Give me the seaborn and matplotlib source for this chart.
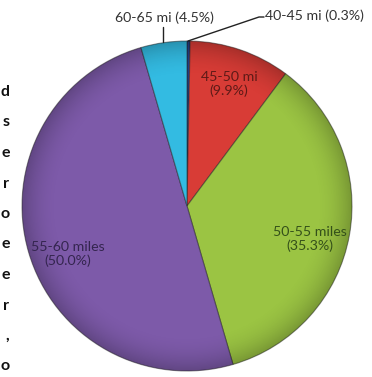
import matplotlib
matplotlib.use("Agg")
import matplotlib.pyplot as plt
import matplotlib.patches as mpatches
import numpy as np
import seaborn as sns

# ---- data ----
categories = ["40-45 mi", "45-50 mi", "50-55 miles", "55-60 miles", "60-65 mi"]
shares = [0.3, 9.9, 35.3, 50.0, 4.5]
colors = ["#243f86", "#d83c36", "#9bc443", "#7d5aa9", "#33bbe2"]
label_colors = ["#333333", "#5e1a17", "#34501a", "#34254f", "#333333"]
side_letters = ["d", "s", "e", "r", "o", "e", "e", "r", ",", "o"]

sns.set_theme(style="white")
plt.rcParams["font.family"] = ["Lato", "DejaVu Sans"]

W, H = 372, 377
fig = plt.figure(figsize=(W / 100, H / 100), dpi=100)
ax = fig.add_axes([0, 0, 1, 1])


def P(x, y):
    return (x, H - y)


cx, cy, R = 187, 206, 165
palette = sns.color_palette(colors)
wedges, _ = ax.pie(
    shares,
    colors=palette,
    startangle=90,
    counterclock=False,
    center=P(cx, cy),
    radius=R,
    wedgeprops=dict(edgecolor=(0.15, 0.15, 0.15, 0.5), linewidth=0.8),
    frame=True,
)
ax.set_xlim(0, W)
ax.set_ylim(0, H)
ax.set_aspect("equal")
ax.axis("off")

# soft rim shading (glossy look of the original)
yy, xx = np.mgrid[-1:1:300j, -1:1:300j]
rr = np.sqrt(xx ** 2 + yy ** 2)
shade = np.zeros((300, 300, 4))
shade[..., 3] = np.clip((rr - 0.78) / 0.22, 0, 1) ** 2 * 0.22
ccx, ccy = P(cx, cy)
im = ax.imshow(shade, extent=(ccx - R, ccx + R, ccy - R, ccy + R), zorder=3,
               interpolation="bilinear")
im.set_clip_path(mpatches.Circle((ccx, ccy), R, transform=ax.transData))
ax.set_xlim(0, W)
ax.set_ylim(0, H)

fs = 10.2
# inside labels
inside = {1: (229, 84), 2: (310, 239), 3: (68, 254)}
for i, (x, y) in inside.items():
    ax.text(*P(x, y), f"{categories[i]}\n({shares[i]:.1f}%)", ha="center", va="center",
            fontsize=fs, color=label_colors[i], linespacing=1.2, zorder=5)

# outside labels with leader lines
ax.text(*P(164, 18), f"{categories[4]} ({shares[4]:.1f}%)", ha="center", va="center",
        fontsize=fs, color=label_colors[4])
ax.plot(*zip(P(163, 27), P(163, 42)), color="#222222", lw=1.0)

ax.text(*P(314, 16), f"{categories[0]} ({shares[0]:.1f}%)", ha="center", va="center",
        fontsize=fs, color=label_colors[0])
ax.plot(*zip(P(264, 17), P(259, 17), P(188, 41)), color="#222222", lw=1.0)

# cut-off letters of neighbouring text at the left edge
for k, ch in enumerate(side_letters):
    ax.text(*P(9.5, 92 + 30.5 * k), ch, ha="right", va="center", fontsize=11.5,
            fontweight="bold", color="#111111")

fig.savefig("out.png", dpi=100)
